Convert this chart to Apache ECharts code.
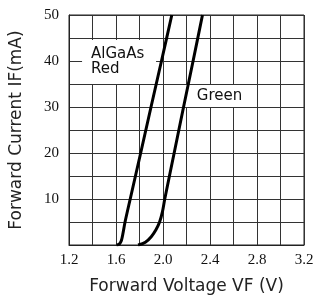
<!DOCTYPE html>
<html>
<head>
<meta charset="utf-8">
<script src="https://cdn.jsdelivr.net/npm/echarts@6/dist/echarts.min.js"></script>
<style>
  html, body { margin: 0; padding: 0; background: #fff; }
  #main { width: 318px; height: 300px; }
</style>
</head>
<body>
<div id="main"></div>
<script>
// forward voltage (V) / forward current (mA)
const redV = [1.605, 1.628, 1.646, 1.660, 1.677, 1.721, 1.810, 1.898, 1.987, 2.075];
const redI = [0, 0.2, 1, 2.6, 5, 10, 20, 30, 40, 50];
const greenV = [1.788, 1.85, 1.90, 1.94, 1.971, 1.995, 2.015, 2.095, 2.175, 2.256, 2.336];
const greenI = [0, 0.6, 1.8, 3.3, 5, 7.2, 10, 20, 30, 40, 50];

// curve names sit in white boxes over the grid
const labelNames = ["AlGaAs\nRed", "Green"];
const labelV = [1.626, 2.49];
const labelI = [39.8, 32.4];

const toPairs = (xs, ys) => xs.map((x, k) => [x, ys[k]]);

let myChart = echarts.init(document.getElementById("main"));
let option = {
  animation: false,
  grid: {
    left: 67,
    right: 14,
    top: 15,
    bottom: 48,
    show: true,
    borderColor: "#222",
    borderWidth: 1
  },
  xAxis: {
    type: "value",
    min: 1.2,
    max: 3.2,
    interval: 0.4,
    name: "Forward Voltage VF (V)",
    nameLocation: "middle",
    nameGap: 33,
    nameTextStyle: { fontFamily: "DejaVu Sans", fontSize: 17, color: "#222" },
    axisLine: { show: true, lineStyle: { color: "#222" } },
    axisTick: { show: false },
    axisLabel: {
      margin: 8,
      fontFamily: "Liberation Serif",
      fontSize: 15,
      color: "#111",
      formatter: (v) => v.toFixed(1)
    },
    splitLine: { show: true, lineStyle: { color: "#333", width: 1 } },
    minorTick: { show: false, splitNumber: 2 },
    minorSplitLine: { show: true, lineStyle: { color: "#333", width: 1 } }
  },
  yAxis: {
    type: "value",
    min: 0,
    max: 50,
    interval: 10,
    name: "Forward Current IF(mA)",
    nameLocation: "middle",
    nameGap: 44,
    nameTextStyle: { fontFamily: "DejaVu Sans", fontSize: 17, color: "#222" },
    axisLine: { show: true, lineStyle: { color: "#222" } },
    axisTick: { show: false },
    axisLabel: {
      margin: 10,
      fontFamily: "Liberation Serif",
      fontSize: 15,
      color: "#111",
      formatter: (v) => (v === 0 ? "" : v)
    },
    splitLine: { show: true, lineStyle: { color: "#333", width: 1 } },
    minorTick: { show: false, splitNumber: 2 },
    minorSplitLine: { show: true, lineStyle: { color: "#333", width: 1 } }
  },
  series: [
    {
      name: "AlGaAs Red",
      type: "line",
      data: toPairs(redV, redI),
      smooth: 0.3,
      showSymbol: false,
      lineStyle: { color: "#000", width: 3 },
      z: 5
    },
    {
      name: "Green",
      type: "line",
      data: toPairs(greenV, greenI),
      smooth: 0.3,
      showSymbol: false,
      lineStyle: { color: "#000", width: 3 },
      z: 5
    },
    {
      name: "labels",
      type: "scatter",
      symbol: "rect",
      silent: true,
      itemStyle: { color: "#fff", opacity: 1 },
      data: [
        {
          value: [labelV[0], labelI[0]],
          name: labelNames[0],
          symbolSize: [74, 44],
          label: { align: "left", offset: [-28, 0] }
        },
        {
          value: [labelV[1], labelI[1]],
          name: labelNames[1],
          symbolSize: [70, 22],
          label: { align: "center", offset: [-1, 0] }
        }
      ],
      label: {
        show: true,
        position: "inside",
        formatter: (p) => p.name,
        fontFamily: "DejaVu Sans",
        fontSize: 15,
        lineHeight: 15,
        color: "#111"
      },
      z: 3
    }
  ]
};
myChart.setOption(option);
</script>
</body>
</html>
